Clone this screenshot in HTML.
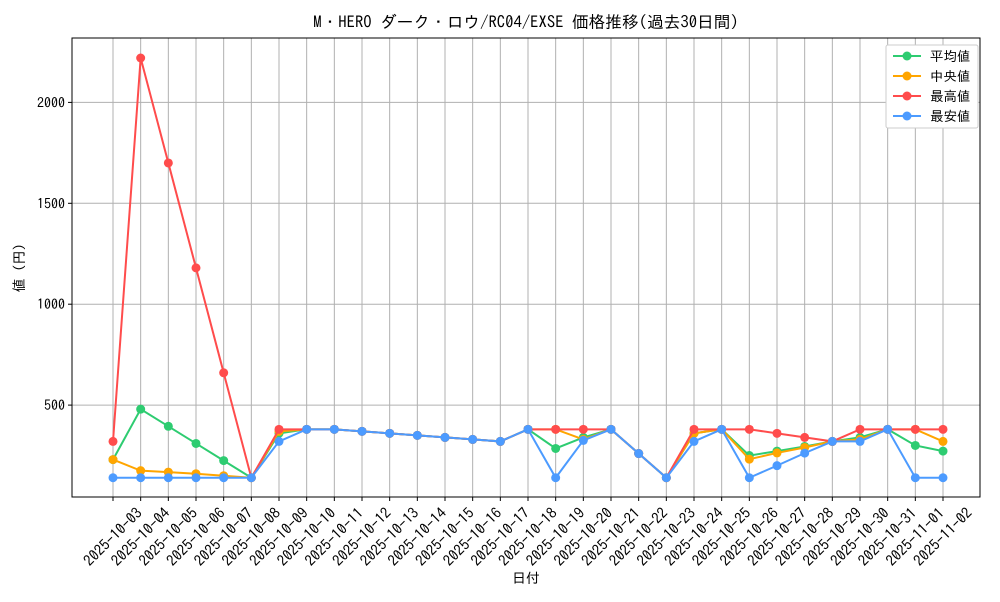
<!DOCTYPE html>
<html><head><meta charset="utf-8"><style>
body{margin:0;background:#fff;font-family:"IPAGothic","Noto Sans CJK JP",sans-serif;}
text{font-family:"IPAGothic","Noto Sans CJK JP",sans-serif;}
</style></head><body>
<svg id="chart" width="1000" height="600" xmlns="http://www.w3.org/2000/svg"></svg>
<script>
const dates=["2025-10-03","2025-10-04","2025-10-05","2025-10-06","2025-10-07","2025-10-08","2025-10-09","2025-10-10","2025-10-11","2025-10-12","2025-10-13","2025-10-14","2025-10-15","2025-10-16","2025-10-17","2025-10-18","2025-10-19","2025-10-20","2025-10-21","2025-10-22","2025-10-23","2025-10-24","2025-10-25","2025-10-26","2025-10-27","2025-10-28","2025-10-29","2025-10-30","2025-10-31","2025-11-01","2025-11-02"];
const avgVals=[230,480,395,310,225,140,360,380,380,370,360,350,340,330,320,380,285,340,380,260,140,360,380,250,272,295,320,340,380,300,272];
const medVals=[230,175,168,160,150,140,370,380,380,370,360,350,340,330,320,380,380,330,380,260,140,360,380,232,263,290,320,330,380,380,320];
const maxVals=[320,2220,1700,1180,660,140,380,380,380,370,360,350,340,330,320,380,380,380,380,260,140,380,380,380,360,340,320,380,380,380,380];
const minVals=[140,140,140,140,140,140,320,380,380,370,360,350,340,330,320,380,140,325,380,260,140,320,380,140,200,262,320,320,380,140,140];
const yTicks=[500,1000,1500,2000];
const seriesNames=["平均値","中央値","最高値","最安値"];
const colors=["#2ecc71","#ffa500","#ff4c4c","#4c9bff"];
const NS="http://www.w3.org/2000/svg";
const svg=document.getElementById('chart');
const L=72,R=980,T=38,B=497;
const x=i=>113+i*(943-113)/(dates.length-1);
const y=v=>506-v*0.2018;
function mk(tag,attrs,parent){const e=document.createElementNS(NS,tag);for(const k in attrs)e.setAttribute(k,attrs[k]);(parent||svg).appendChild(e);return e;}
const grid=mk('g',{});


dates.forEach((d,i)=>{mk('line',{x1:x(i),x2:x(i),y1:T,y2:B,stroke:'#b0b0b0','stroke-width':1},grid);});
yTicks.forEach(v=>{mk('line',{x1:L,x2:R,y1:y(v),y2:y(v),stroke:'#b0b0b0','stroke-width':1},grid);});
const frame=mk('rect',{x:L,y:T,width:R-L,height:B-T,fill:'none',stroke:'#000','stroke-width':1});


yTicks.forEach(v=>{mk('line',{x1:L-4,x2:L,y1:y(v),y2:y(v),stroke:'#000'});
const t=mk('text',{x:L-7,y:y(v)+5,'font-size':14,'text-anchor':'end'});t.textContent=v;

});
dates.forEach((d,i)=>{mk('line',{x1:x(i),x2:x(i),y1:B,y2:B+4,stroke:'#000'});
const cx=x(i), cy=537;
const t=mk('text',{x:cx,y:cy+5,'font-size':15,'text-anchor':'middle',transform:`rotate(-45 ${cx} ${cy})`});t.textContent=d;

});
const all=[avgVals,medVals,maxVals,minVals];
[0,1,2,3].forEach(s=>{const g=mk('g',{});


mk('polyline',{points:all[s].map((v,i)=>x(i)+','+y(v)).join(' '),fill:'none',stroke:colors[s],'stroke-width':2},g);
all[s].forEach((v,i)=>{const c=mk('circle',{cx:x(i),cy:y(v),r:4.5,fill:colors[s]},g);

});});
const title=mk('text',{x:526,y:28,'font-size':16.7,'text-anchor':'middle'});title.textContent="M・HERO ダーク・ロウ/RC04/EXSE 価格推移(過去30日間)";


const xt=mk('text',{x:526,y:583,'font-size':14,'text-anchor':'middle'});xt.textContent="日付";


const yt=mk('text',{x:24,y:268,'font-size':14,'text-anchor':'middle',transform:'rotate(-90 24 268)'});yt.textContent="値 (円)";


const lg=mk('g',{});


mk('rect',{x:886,y:45,width:92,height:83,fill:'#fff',stroke:'#ccc',rx:2},lg);
seriesNames.forEach((n,i)=>{const ly=56+i*20;
mk('line',{x1:893,x2:921,y1:ly,y2:ly,stroke:colors[i],'stroke-width':2},lg);
mk('circle',{cx:907,cy:ly,r:4.5,fill:colors[i]},lg);
const t=mk('text',{x:930,y:ly+5,'font-size':13.5},lg);t.textContent=n;

});
</script>
</body></html>
